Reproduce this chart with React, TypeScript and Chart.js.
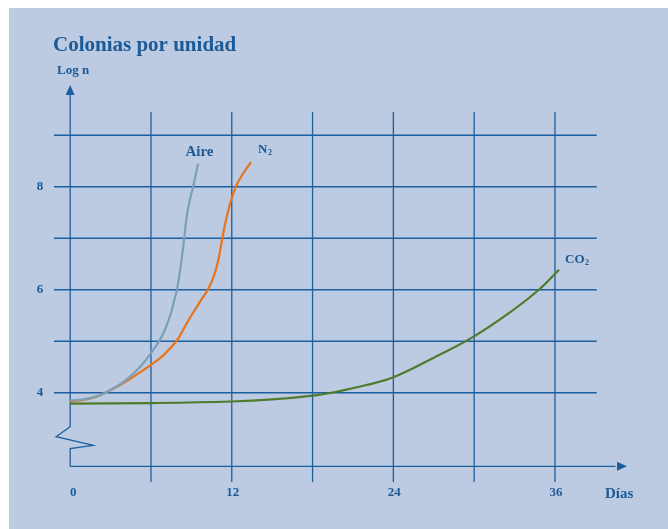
import React, { useEffect, useRef } from "react";
import { Chart, registerables } from "chart.js";

Chart.register(...registerables);

// ---- data ----
const AIRE_X = [0, 1, 2, 2.6, 3.5, 4.34, 5.29, 6, 6.6, 7.0, 7.48, 7.73, 7.93, 8.23, 8.47, 8.73, 9.13, 9.5];
const AIRE_Y = [3.85, 3.87, 3.93, 4.0, 4.13, 4.29, 4.53, 4.77, 5.0, 5.2, 5.54, 5.8, 6.0, 6.5, 7.0, 7.55, 8.0, 8.45];

const N2_X = [0, 1, 2, 2.6, 3.5, 4.4, 6, 6.93, 7.88, 8.43, 8.93, 9.7, 10.22, 10.65, 11.0, 11.3, 11.55, 11.93, 12.3, 12.8, 13.43];
const N2_Y = [3.83, 3.86, 3.93, 4.0, 4.12, 4.26, 4.54, 4.73, 5.0, 5.24, 5.47, 5.79, 6.0, 6.25, 6.58, 7.0, 7.33, 7.72, 8.0, 8.24, 8.48];

const CO2_X = [0, 6, 12, 15, 18.2, 19.6, 22, 24, 27, 29.9, 32.5, 34.8, 36.3];
const CO2_Y = [3.79, 3.8, 3.83, 3.87, 3.95, 4.01, 4.15, 4.3, 4.68, 5.08, 5.53, 6.0, 6.39];

const X_TICKS = [0, 12, 24, 36];
const Y_TICKS = [4, 6, 8];
const H_GRID = [4, 5, 6, 7, 8, 9];
const V_GRID = [6, 12, 18, 24, 30, 36];

const TITLE = "Colonias por unidad";
const Y_TITLE = "Log n";
const X_TITLE = "Días";

const TEXT = "#1b5a97";
const GRID = "#1c5f9f";
const BG = "#bccbe1";
const FONT = "'Liberation Serif', 'DejaVu Serif', serif";

const pts = (xs: number[], ys: number[]) => xs.map((x, i) => ({ x, y: ys[i] }));

const overlay = {
  id: "overlay",
  beforeDatasetsDraw(chart: any) {
    const { ctx } = chart;
    const sx = chart.scales.x;
    const sy = chart.scales.y;
    const px = (v: number) => sx.getPixelForValue(v);
    const py = (v: number) => sy.getPixelForValue(v);
    ctx.save();
    ctx.strokeStyle = GRID;
    ctx.lineWidth = 1.3;
    // horizontal grid lines
    H_GRID.forEach((v) => {
      ctx.beginPath();
      ctx.moveTo(px(-1.2), py(v));
      ctx.lineTo(px(39.1), py(v));
      ctx.stroke();
    });
    // vertical grid lines
    V_GRID.forEach((v) => {
      ctx.beginPath();
      ctx.moveTo(px(v), py(9.45));
      ctx.lineTo(px(v), py(2.267));
      ctx.stroke();
    });
    // y axis with break
    const axisY = py(2.572);
    ctx.beginPath();
    ctx.moveTo(px(0), axisY);
    ctx.lineTo(px(0), py(2.914));
    ctx.lineTo(px(1.71), py(2.98));
    ctx.lineTo(px(-1.04), py(3.147));
    ctx.lineTo(px(0), py(3.34));
    ctx.lineTo(px(0), py(9.8));
    ctx.stroke();
    // y arrow
    ctx.fillStyle = GRID;
    ctx.beginPath();
    ctx.moveTo(px(0), py(9.976));
    ctx.lineTo(px(0) - 4.5, py(9.976) + 10);
    ctx.lineTo(px(0) + 4.5, py(9.976) + 10);
    ctx.closePath();
    ctx.fill();
    // x axis
    ctx.beginPath();
    ctx.moveTo(px(0), axisY);
    ctx.lineTo(px(40.5), axisY);
    ctx.stroke();
    ctx.beginPath();
    ctx.moveTo(px(41.35), axisY);
    ctx.lineTo(px(41.35) - 10, axisY - 4.5);
    ctx.lineTo(px(41.35) - 10, axisY + 4.5);
    ctx.closePath();
    ctx.fill();
    ctx.restore();
  },
  afterDatasetsDraw(chart: any) {
    const { ctx } = chart;
    const sx = chart.scales.x;
    const sy = chart.scales.y;
    const px = (v: number) => sx.getPixelForValue(v);
    const py = (v: number) => sy.getPixelForValue(v);
    ctx.save();
    ctx.fillStyle = TEXT;
    // title
    ctx.font = `bold 21px ${FONT}`;
    ctx.textAlign = "left";
    ctx.textBaseline = "alphabetic";
    ctx.fillText(TITLE, 44, 43);
    ctx.font = `bold 13px ${FONT}`;
    ctx.fillText(Y_TITLE, 48, 66);
    // tick labels
    ctx.font = `bold 13px ${FONT}`;
    ctx.textBaseline = "middle";
    ctx.textAlign = "center";
    Y_TICKS.forEach((v) => ctx.fillText(String(v), 31, py(v)));
    X_TICKS.forEach((v) => ctx.fillText(String(v), px(v) + (v === 0 ? 3 : 1), 485));
    ctx.textAlign = "left";
    ctx.font = `bold 15px ${FONT}`;
    ctx.fillText(X_TITLE, 596, 486);
    // series labels
    const sub = (main: string, s: string, x: number, y: number, size: number) => {
      ctx.font = `bold ${size}px ${FONT}`;
      ctx.textAlign = "left";
      ctx.textBaseline = "alphabetic";
      ctx.fillText(main, x, y);
      const w = ctx.measureText(main).width;
      ctx.font = `bold ${Math.round(size * 0.6)}px ${FONT}`;
      ctx.fillText(s, x + w + 0.5, y + 2);
    };
    ctx.font = `bold 15px ${FONT}`;
    ctx.textAlign = "center";
    ctx.textBaseline = "alphabetic";
    ctx.fillText("Aire", px(9.6), py(8.6));
    sub("N", "2", px(13.95), py(8.655), 13);
    sub("CO", "2", px(36.75), py(6.52), 13);
    ctx.restore();
  },
};

export default function App() {
  const ref = useRef<HTMLCanvasElement>(null);
  useEffect(() => {
    if (!ref.current) return;
    const line = (label: string, data: any[], color: string, width: number) => ({
      label,
      data,
      borderColor: color,
      backgroundColor: color,
      borderWidth: width,
      showLine: true,
      pointRadius: 0,
      tension: 0.4,
      fill: false,
    });
    const chart = new Chart(ref.current, {
      type: "scatter",
      data: {
        datasets: [
          line("CO2", pts(CO2_X, CO2_Y), "#4e7b2c", 2.2),
          line("Aire", pts(AIRE_X, AIRE_Y), "#7a9fb6", 2.2),
          line("N2", pts(N2_X, N2_Y), "#e8741e", 2.2),
        ],
      },
      options: {
        animation: false,
        responsive: false,
        devicePixelRatio: 1,
        layout: { padding: { left: 45, right: 41, top: 77, bottom: 47 } },
        plugins: { legend: { display: false }, tooltip: { enabled: false }, title: { display: false } },
        scales: {
          x: { type: "linear", min: -1.2, max: 41.35, display: false },
          y: { type: "linear", min: 2.267, max: 9.976, display: false },
        },
      },
      plugins: [overlay],
    });
    return () => chart.destroy();
  }, []);
  return (
    <div style={{ position: "absolute", left: 9, top: 8, width: 659, height: 521, background: BG }}>
      <canvas ref={ref} width={659} height={521} style={{ display: "block" }} />
    </div>
  );
}
